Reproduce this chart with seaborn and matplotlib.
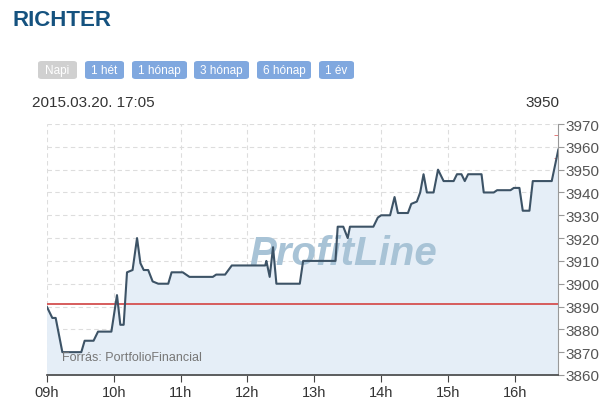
import pandas as pd
import matplotlib
matplotlib.use("Agg")
import matplotlib.pyplot as plt
from matplotlib.patches import FancyBboxPatch
from matplotlib.ticker import MultipleLocator
import seaborn as sns

# Intraday prices
times = ["09:00", "09:05", "09:08", "09:14", "09:31", "09:34", "09:42", "09:46", "09:58",
         "10:03", "10:06", "10:09", "10:12", "10:17", "10:21", "10:24", "10:27", "10:31",
         "10:35", "10:40", "10:49", "10:52", "11:02", "11:08", "11:29", "11:32", "11:40",
         "11:46", "12:16", "12:17", "12:20", "12:23", "12:26", "12:47", "12:50", "13:19",
         "13:21", "13:26", "13:30", "13:32", "13:53", "13:57", "14:00", "14:08", "14:12",
         "14:15", "14:24", "14:27", "14:32", "14:35", "14:38", "14:41", "14:47", "14:51",
         "14:56", "15:05", "15:08", "15:12", "15:15", "15:18", "15:30", "15:32", "15:41",
         "15:44", "15:56", "15:59", "16:04", "16:07", "16:13", "16:16", "16:33", "16:39"]
prices = [3890, 3885, 3885, 3870, 3870, 3875, 3875, 3879, 3879,
          3895, 3882, 3882, 3905, 3906, 3920, 3909, 3906, 3906,
          3901, 3900, 3900, 3905, 3905, 3903, 3903, 3904, 3904,
          3908, 3908, 3910, 3903, 3916, 3900, 3900, 3910, 3910,
          3925, 3925, 3920, 3925, 3925, 3929, 3930, 3930, 3938,
          3931, 3931, 3935, 3936, 3940, 3948, 3940, 3940, 3950,
          3945, 3945, 3948, 3948, 3945, 3948, 3948, 3940, 3940,
          3941, 3941, 3942, 3942, 3932, 3932, 3945, 3945, 3959]
prev_close = 3891
hour_ticks = [9, 10, 11, 12, 13, 14, 15, 16]
hour_labels = ["09h", "10h", "11h", "12h", "13h", "14h", "15h", "16h"]
buttons = ["Napi", "1 hét", "1 hónap", "3 hónap", "6 hónap", "1 év"]

df = pd.DataFrame({"time": times, "price": prices})
t = pd.to_datetime(df["time"], format="%H:%M")
df["hour"] = t.dt.hour + t.dt.minute / 60

sns.set_style("white")
plt.rcParams["font.family"] = ["Liberation Sans", "DejaVu Sans"]

fig = plt.figure(figsize=(6.15, 4.06), dpi=100)
ax = fig.add_axes([0.076, 0.074, 0.832, 0.618])

ax.fill_between(df["hour"], df["price"], 3860, color="#e5eef7", zorder=1)
ax.text(0.58, 0.485, "ProfitLine", transform=ax.transAxes, ha="center", va="center",
        fontsize=29, fontweight="bold", style="italic", color="#a8c3d6", zorder=2)
sns.lineplot(data=df, x="hour", y="price", color="#3d5366", linewidth=1.5, ax=ax, zorder=4)
ax.axhline(prev_close, color="#d65c5c", linewidth=1.4, zorder=3)

ax.set_xlim(9, 16.65)
ax.set_ylim(3860, 3970)
ax.set_xticks(hour_ticks)
ax.set_xticklabels(hour_labels)
ax.yaxis.set_major_locator(MultipleLocator(10))
ax.yaxis.set_minor_locator(MultipleLocator(5))
ax.yaxis.tick_right()
ax.set_xlabel("")
ax.set_ylabel("")
ax.grid(True, which="major", linestyle=(0, (4, 3)), color="#dddddd", linewidth=0.8, zorder=0)
ax.set_axisbelow(True)

for s in ["top", "left"]:
    ax.spines[s].set_visible(False)
ax.spines["right"].set_color("#999999")
ax.spines["bottom"].set_color("#444444")
ax.spines["bottom"].set_linewidth(1.2)
ax.tick_params(axis="x", which="major", direction="out", length=5, color="#444444",
               labelsize=10.5, labelcolor="#333333", bottom=True, pad=2)
ax.tick_params(axis="y", which="major", direction="out", length=4, color="#999999",
               labelsize=11, labelcolor="#555555", right=True, pad=1)
ax.tick_params(axis="y", which="minor", direction="in", length=3, color="#e06666", right=True)

ax.text(0.03, 0.06, "Forrás: PortfolioFinancial", transform=ax.transAxes,
        fontsize=9, color="#777777", zorder=5)

# header
fig.text(12 / 615, 1 - 21 / 406, "RICHTER", fontsize=16, fontweight="bold",
         color="#15527f", va="center")
fig.text(32 / 615, 1 - 103 / 406, "2015.03.20. 17:05", fontsize=11, color="#333333", va="center")
fig.text(559 / 615, 1 - 103 / 406, "3950", fontsize=11, color="#333333", va="center", ha="right")

btn_x = [38, 85, 132, 194, 257, 319]
btn_w = [39, 39, 55, 55, 54, 35]
for label, bx, bw in zip(buttons, btn_x, btn_w):
    face = "#d0d0d0" if label == "Napi" else "#80a8df"
    box = FancyBboxPatch((bx / 615, 1 - 80 / 406), bw / 615, 18 / 406,
                         boxstyle="round,pad=0,rounding_size=0.006",
                         transform=fig.transFigure, facecolor=face, edgecolor="none")
    fig.patches.append(box)
    fig.text((bx + bw / 2) / 615, 1 - 71 / 406, label, fontsize=8.5,
             color="white", ha="center", va="center")

fig.savefig("out.png", dpi=100)
